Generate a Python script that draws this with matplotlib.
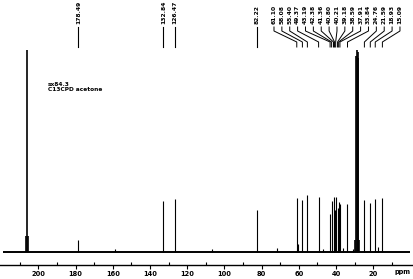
import matplotlib
matplotlib.use("Agg")
import matplotlib.pyplot as plt
import numpy as np

# --- data ---
# labelled peaks, ppm and relative height (tallest solvent line = 100)
single_ppm = [178.49, 132.84, 126.47, 82.22]
single_h = [6.1, 25.4, 26.3, 20.9]

cluster_ppm = [61.10, 58.08, 55.40, 49.37, 43.19, 42.38, 41.36, 40.80, 40.21,
               39.18, 38.59, 37.91, 33.84, 24.76, 21.59, 18.93, 15.09]
cluster_h = [26.8, 25.9, 28.3, 27.5, 18.9, 25.4, 27.3, 21.0, 27.3,
             22.0, 24.9, 23.9, 23.9, 25.9, 24.4, 26.3, 26.8]

# acetone-d6 solvent lines (not labelled)
solvent_ppm = [206.45, 205.95, 205.45, 29.55, 29.15, 28.75, 28.35, 27.95, 27.55]
solvent_h = [8.0, 100.0, 8.0, 6.0, 97.0, 100.0, 99.0, 96.0, 6.0]

# small unlabelled bumps
small_ppm = [158.7, 106.8, 71.9, 60.6, 47.0, 36.5, 31.0, 17.5]
small_h = [1.6, 1.5, 2.0, 4.0, 1.5, 2.0, 1.5, 2.5]

major_ticks = [200, 180, 160, 140, 120, 100, 80, 60, 40, 20]
info_lines = ["sx84.3", "C13CPD acetone"]

W, H = 414, 279
AX_BOTTOM = 265          # pixel row of the x axis line
BASE_Y = 252.3           # pixel row of the spectrum baseline
TOP_Y = 50.0             # pixel row of the tallest line


def yfrac(py):
    # pixel row -> axes fraction
    return (AX_BOTTOM - py) / AX_BOTTOM


fig = plt.figure(figsize=(W / 100, H / 100), dpi=100)
fig.patch.set_facecolor("white")
ax = fig.add_axes([0, (H - AX_BOTTOM) / H, 1, AX_BOTTOM / H])

px_per_unit = (BASE_Y - TOP_Y) / 100.0
ax.set_xlim(220.6, -1.9)
ax.set_ylim(-(AX_BOTTOM - BASE_Y) / px_per_unit, BASE_Y / px_per_unit)

# baseline and sticks
ax.plot([219.0, 0.2], [0, 0], color="black", lw=1.4, solid_capstyle="butt")
ax.vlines(single_ppm + cluster_ppm, 0, single_h + cluster_h, color="black", lw=0.8)
ax.vlines(solvent_ppm, 0, solvent_h, color="black", lw=1.2)
ax.vlines(small_ppm, 0, small_h, color="black", lw=0.8)

# axis styling
for s in ["top", "left", "right"]:
    ax.spines[s].set_visible(False)
ax.spines["bottom"].set_linewidth(1.0)
ax.set_yticks([])
ax.set_xticks(major_ticks)
ax.set_xticklabels([str(t) for t in major_ticks], fontsize=4.8, fontweight="bold")
ax.set_xticks([t + 10 for t in major_ticks] + [10], minor=True)
ax.tick_params(axis="x", which="major", direction="out", length=3, width=0.8, pad=1)
ax.tick_params(axis="x", which="minor", direction="in", length=2, width=0.8)
fig.text(403 / W, 1 - 272 / H, "ppm", fontsize=4.8, fontweight="bold",
         ha="center", va="center")

# peak labels
tr = ax.get_xaxis_transform()
lab_kw = dict(rotation=90, ha="center", va="bottom", fontsize=4.3,
              fontweight="bold", transform=tr)
for p in single_ppm:
    ax.text(p, yfrac(24), f"{p:.2f}", **lab_kw)
    ax.plot([p, p], [yfrac(27), yfrac(47)], color="black", lw=0.8, transform=tr)

# cluster labels spread evenly, leader lines fanning to the peaks
x0_px, x1_px = 274, 400
lab_px = np.linspace(x0_px, x1_px, len(cluster_ppm))
lab_ppm = 200 - (lab_px - 38.3) / 1.861
for lp, p in zip(lab_ppm, cluster_ppm):
    ax.text(lp, yfrac(24), f"{p:.2f}", **lab_kw)
    ax.plot([lp, lp, p, p], [yfrac(27), yfrac(31), yfrac(42), yfrac(47)],
            color="black", lw=0.7, transform=tr)

# experiment info
fig.text(48 / W, 1 - 84 / H, info_lines[0], fontsize=4.2, fontweight="bold",
         ha="left", va="center")
fig.text(48 / W, 1 - 89.5 / H, info_lines[1], fontsize=4.2, fontweight="bold",
         ha="left", va="center")

fig.savefig("out.png", dpi=100, facecolor="white")
